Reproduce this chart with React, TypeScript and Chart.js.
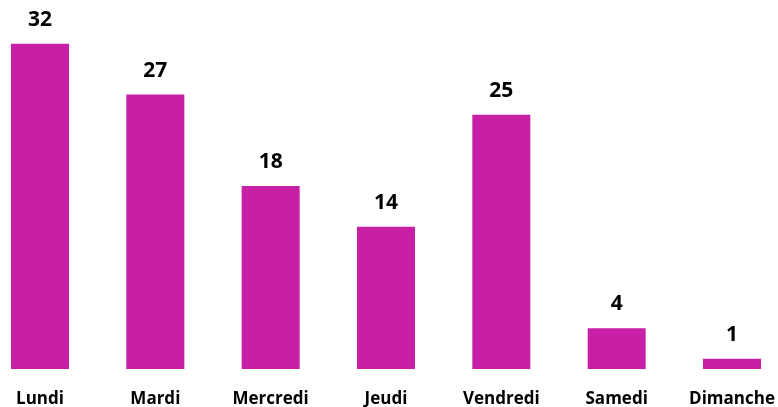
import React, { useEffect, useRef } from "react";
import { Chart, registerables } from "chart.js";

Chart.register(...registerables);

const categories = ["Lundi", "Mardi", "Mercredi", "Jeudi", "Vendredi", "Samedi", "Dimanche"];
const values = [32, 27, 18, 14, 25, 4, 1];
const barColor = "#C71FA6";
const FONT = "'Open Sans', sans-serif";

const valueLabels = {
  id: "valueLabels",
  afterDatasetsDraw(chart: any) {
    const { ctx } = chart;
    const meta = chart.getDatasetMeta(0);
    ctx.save();
    ctx.font = `bold 21px ${FONT}`;
    ctx.fillStyle = "#000";
    ctx.textAlign = "center";
    ctx.textBaseline = "alphabetic";
    meta.data.forEach((bar: any, i: number) => {
      ctx.fillText(String(values[i]), bar.x, bar.y - 18);
    });
    ctx.restore();
  },
};

export default function App() {
  const ref = useRef<HTMLCanvasElement>(null);
  useEffect(() => {
    document.body.style.margin = "0";
    const chart = new Chart(ref.current!, {
      type: "bar",
      data: {
        labels: categories,
        datasets: [
          {
            data: values,
            backgroundColor: barColor,
            categoryPercentage: 1,
            barPercentage: 0.503,
            clip: false as any,
          },
        ],
      },
      options: {
        animation: false,
        responsive: false,
        layout: { padding: { top: 3, left: 40, right: 46, bottom: 0 } },
        plugins: { legend: { display: false }, tooltip: { enabled: false } },
        scales: {
          x: {
            offset: false,
            grid: { display: false, drawTicks: false },
            border: { display: false },
            afterFit(scale: any) {
              scale.height = 38;
              scale.paddingLeft = 0;
              scale.paddingRight = 0;
            },
            ticks: {
              color: "#000",
              padding: 20,
              maxRotation: 0,
              autoSkip: false,
              font: { family: FONT, weight: "bold", size: 17 },
            },
          },
          y: { display: false, min: 0, max: 36 },
        },
      },
      plugins: [valueLabels],
    });
    return () => chart.destroy();
  }, []);
  return <canvas ref={ref} width={778} height={407} style={{ display: "block" }} />;
}
